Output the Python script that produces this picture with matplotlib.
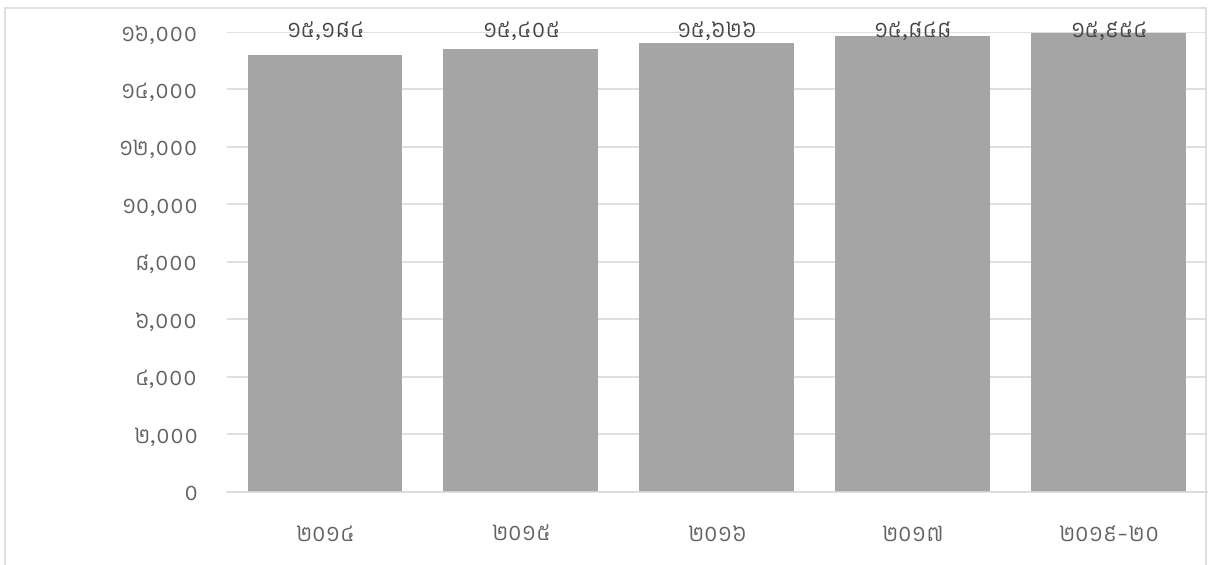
import matplotlib
matplotlib.use("Agg")
import matplotlib.pyplot as plt
from matplotlib.patches import Rectangle
from matplotlib.ticker import FuncFormatter, MultipleLocator

plt.rcParams["font.family"] = ["Kantumruy Pro", "Noto Sans Khmer", "DejaVu Sans"]
plt.rcParams["font.weight"] = 200

# data
years = ["២០១៤", "២០១៥", "២០១៦", "២០១៧", "២០១៩-២០"]
values = [15184, 15405, 15626, 15848, 15954]

BAR_COLOR = "#A5A5A5"
GRID_COLOR = "#D9D9D9"
TICK_COLOR = "#626262"
LABEL_COLOR = "#454545"

_KHMER = str.maketrans("0123456789", "០១២៣៤៥៦៧៨៩")


def khmer(n):
    return f"{int(n):,}".translate(_KHMER)


fig = plt.figure(figsize=(12.08, 5.65), dpi=100)
ax = fig.add_axes([227 / 1208, 1 - 491.5 / 565, 979.5 / 1208, 459.5 / 565])

x = range(len(years))
ax.bar(x, values, width=0.79, color=BAR_COLOR, zorder=2)

ax.set_xlim(-0.5, len(years) - 0.5)
ax.set_ylim(0, 16000)
ax.yaxis.set_major_locator(MultipleLocator(2000))
ax.yaxis.set_major_formatter(FuncFormatter(lambda v, _: khmer(v)))
ax.set_xticks(list(x))
ax.set_xticklabels(years)

ax.grid(axis="y", color=GRID_COLOR, lw=1.2, zorder=0)
for side in ("top", "right", "left"):
    ax.spines[side].set_visible(False)
ax.spines["bottom"].set_color(GRID_COLOR)
ax.spines["bottom"].set_linewidth(1.2)
ax.tick_params(axis="both", length=0, colors=TICK_COLOR, labelsize=17)
ax.tick_params(axis="y", pad=21)
ax.tick_params(axis="x", pad=23)

# data labels: pushed inside the plot top when they would overflow
top = ax.get_ylim()[1]
for xi, v in zip(x, values):
    ax.text(xi, min(v + 1000, top + 35), khmer(v), ha="center", va="center",
            color=LABEL_COLOR, fontsize=17, zorder=3, clip_on=False)

# chart frame
fig.patches.append(Rectangle((5 / 1208, -0.05), 1201 / 1208, 1.05 - 8 / 565,
                             transform=fig.transFigure, fill=False,
                             edgecolor=GRID_COLOR, lw=1.2))

fig.savefig("out.png", dpi=100)
